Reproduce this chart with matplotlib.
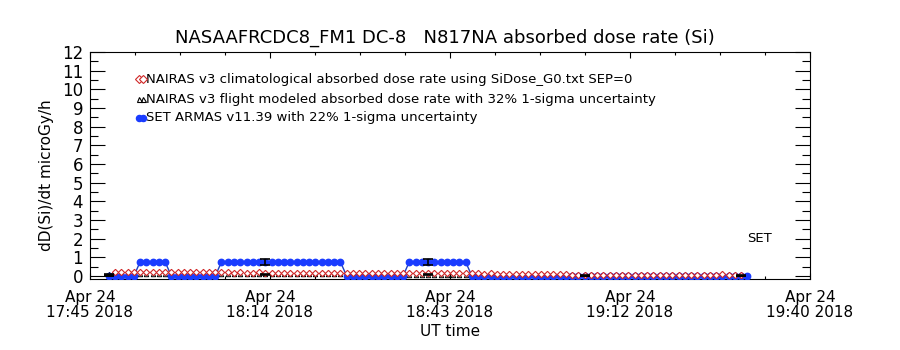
import numpy as np
import matplotlib
matplotlib.use("Agg")
import matplotlib.pyplot as plt
from matplotlib.ticker import MultipleLocator, FixedLocator

# ---------------- data (minutes after 17:45 UT, 2018-04-24) ----------------
clim_minutes = np.arange(4, 105)          # NAIRAS climatological sample times
clim_values = [
    0.20, 0.21, 0.20, 0.21, 0.20, 0.20, 0.21, 0.20, 0.20, 0.19, 0.20, 0.20, 0.19, 0.19, 0.20, 0.19, 0.19,
    0.19, 0.19, 0.18, 0.19, 0.18, 0.18, 0.19, 0.18, 0.18, 0.18, 0.18, 0.17, 0.18, 0.17, 0.17, 0.18, 0.17, 0.17, 0.17, 0.17,
    0.16, 0.16, 0.17, 0.16, 0.16, 0.16, 0.15, 0.16, 0.15, 0.15, 0.16, 0.15, 0.15, 0.15, 0.15, 0.14, 0.15, 0.14, 0.14, 0.14,
    0.14, 0.14, 0.13, 0.14, 0.13, 0.13, 0.13, 0.12, 0.13, 0.12, 0.12, 0.12, 0.11, 0.11, 0.10, 0.09,
    0.06, 0.05, 0.05, 0.04, 0.04, 0.04, 0.04, 0.04, 0.04, 0.04, 0.04, 0.04, 0.04, 0.04, 0.04, 0.04, 0.04, 0.04,
    0.05, 0.05, 0.05, 0.05,
    0.07, 0.08, 0.09, 0.08, 0.07, 0.05,
]

flight_minutes = np.arange(3, 106)        # NAIRAS flight-modeled sample times
flight_values = [
    0.10, 0.11, 0.11, 0.12, 0.12, 0.11, 0.12, 0.12, 0.11, 0.12, 0.11, 0.11, 0.11, 0.12, 0.11, 0.11, 0.11, 0.11,
    0.11, 0.10, 0.11, 0.10, 0.10, 0.11, 0.10, 0.10, 0.10, 0.10, 0.10, 0.10, 0.09, 0.10, 0.09, 0.09, 0.10, 0.09, 0.09, 0.09,
    0.09, 0.09, 0.08, 0.09, 0.08, 0.08, 0.08, 0.08, 0.08, 0.08, 0.07, 0.08, 0.07, 0.07, 0.07, 0.07, 0.07, 0.07, 0.07, 0.06,
    0.06, 0.06, 0.06, 0.06, 0.06, 0.06, 0.05, 0.06, 0.05, 0.05, 0.05, 0.05, 0.05, 0.05, 0.04, 0.04, 0.03, 0.03, 0.03, 0.03,
    0.03, 0.03, 0.03, 0.03, 0.03, 0.03, 0.03, 0.03, 0.03, 0.03, 0.03, 0.03, 0.03, 0.03, 0.03, 0.03, 0.03, 0.03, 0.03,
    0.04, 0.04, 0.04, 0.04, 0.03, 0.03,
]

set_minutes = np.arange(3, 106)           # SET ARMAS sample times
set_values = [
    0, 0, 0, 0, 0,
    0.75, 0.76, 0.76, 0.75, 0.75,
    0, 0, 0, 0, 0, 0, 0, 0,
    0.75, 0.76, 0.75, 0.75, 0.76, 0.75, 0.76, 0.75, 0.75, 0.76, 0.75, 0.75, 0.76, 0.75, 0.75, 0.76, 0.75, 0.75, 0.76, 0.75,
    0, 0, 0, 0, 0, 0, 0, 0, 0, 0,
    0.76, 0.75, 0.75, 0.76, 0.75, 0.76, 0.75, 0.75, 0.76, 0.75,
    0, 0, 0, 0, 0, 0, 0, 0, 0, 0, 0, 0, 0, 0, 0, 0, 0, 0, 0, 0, 0, 0, 0, 0, 0,
    0, 0, 0, 0, 0, 0, 0, 0, 0, 0, 0, 0, 0, 0, 0, 0, 0, 0, 0, 0,
]

errbar_minutes = [3, 28, 54, 79, 104]
flight_rel_unc = 0.32
set_rel_unc = 0.22

x_tick_minutes = [0, 28.75, 57.5, 86.25, 115]
x_tick_labels = ["Apr 24\n17:45 2018", "Apr 24\n18:14 2018", "Apr 24\n18:43 2018",
                 "Apr 24\n19:12 2018", "Apr 24\n19:40 2018"]

legend_labels = [
    "NAIRAS v3 climatological absorbed dose rate using SiDose_G0.txt SEP=0",
    "NAIRAS v3 flight modeled absorbed dose rate with 32% 1-sigma uncertainty",
    "SET ARMAS v11.39 with 22% 1-sigma uncertainty",
]
title = "NASAAFRCDC8_FM1 DC-8   N817NA absorbed dose rate (Si)"

# ---------------- figure ----------------
plt.rcParams['font.family'] = ['DejaVu Sans']
fig = plt.figure(figsize=(9, 3.5), dpi=100)
ax = fig.add_axes([90/900, 1-279/350, 720/900, 227/350])

RED = '#d02828'
BLUE_M = '#1a3cff'
BLUE_L = '#2040c0'

ax.plot(flight_minutes, flight_values, linestyle='none', marker='^', ms=3.2,
        mfc='none', mec='black', mew=0.7, zorder=2)
ax.plot(set_minutes, set_values, color=BLUE_L, lw=1.0, marker='o', ms=4.6,
        mfc=BLUE_M, mec=BLUE_M, zorder=3)
ax.plot(clim_minutes, clim_values, linestyle='none', marker='D', ms=3.2,
        mfc='white', mec=RED, mew=0.8, zorder=4)

fl_map = dict(zip(flight_minutes.tolist(), flight_values))
st_map = dict(zip(set_minutes.tolist(), set_values))
ef = [fl_map[m] for m in errbar_minutes]
es = [st_map[m] for m in errbar_minutes]
ax.errorbar(errbar_minutes, ef, yerr=[v*flight_rel_unc for v in ef], fmt='none',
            ecolor='black', elinewidth=1.2, capsize=3.5, capthick=1.2, zorder=5)
ax.errorbar(errbar_minutes, es, yerr=[v*set_rel_unc for v in es], fmt='none',
            ecolor='black', elinewidth=1.2, capsize=3.5, capthick=1.2, zorder=5)

ax.set_xlim(0, 115)
ax.set_ylim(-0.16, 12)

ax.xaxis.set_major_locator(FixedLocator(x_tick_minutes))
ax.xaxis.set_minor_locator(MultipleLocator(115/16))
ax.set_xticklabels(x_tick_labels, linespacing=0.95, fontsize=11)
ax.yaxis.set_major_locator(MultipleLocator(1))
ax.yaxis.set_minor_locator(MultipleLocator(0.5))
ax.tick_params(axis='y', labelsize=12)

ax.tick_params(axis='x', which='major', direction='in', length=4.5, width=0.8,
               top=True, bottom=True, pad=8)
ax.tick_params(axis='x', which='minor', direction='in', length=2.5, width=0.8,
               top=True, bottom=True)
ax.tick_params(axis='y', which='major', direction='in', length=10.5, width=0.8,
               left=True, right=True, pad=5)
ax.tick_params(axis='y', which='minor', direction='in', length=5.5, width=0.8,
               left=True, right=True)
for s in ax.spines.values():
    s.set_linewidth(0.8)

# legend drawn IDL-style (two symbols + text)
def fx(px):
    return (px - 90) / 720
def fy(py):
    return (279 - py) / 227

rows = [79, 99, 118]
styles = [
    dict(marker='D', ms=3.6, mfc='white', mec=RED, mew=0.8, linestyle='none'),
    dict(marker='^', ms=3.6, mfc='none', mec='black', mew=0.8, linestyle='none'),
    dict(marker='o', ms=4.4, mfc=BLUE_M, mec=BLUE_M, color=BLUE_L, lw=1.0),
]
for py, st, lab in zip(rows, styles, legend_labels):
    ax.plot([fx(139), fx(143)], [fy(py), fy(py)], transform=ax.transAxes,
            clip_on=False, zorder=6, **st)
    ax.text(fx(146), fy(py), lab, transform=ax.transAxes, ha='left', va='center',
            fontsize=9.5)

ax.text(fx(759), fy(238), "SET", transform=ax.transAxes, ha='center', va='center',
        fontsize=9.5)

fig.text(445/900, 1-38/350, title, ha='center', va='center', fontsize=13)
fig.text(450/900, 1-332/350, "UT time", ha='center', va='center', fontsize=11)
fig.text(47/900, 1-175/350, "dD(Si)/dt microGy/h", ha='center', va='center',
         rotation=90, fontsize=11)

fig.savefig("out.png", dpi=100)
